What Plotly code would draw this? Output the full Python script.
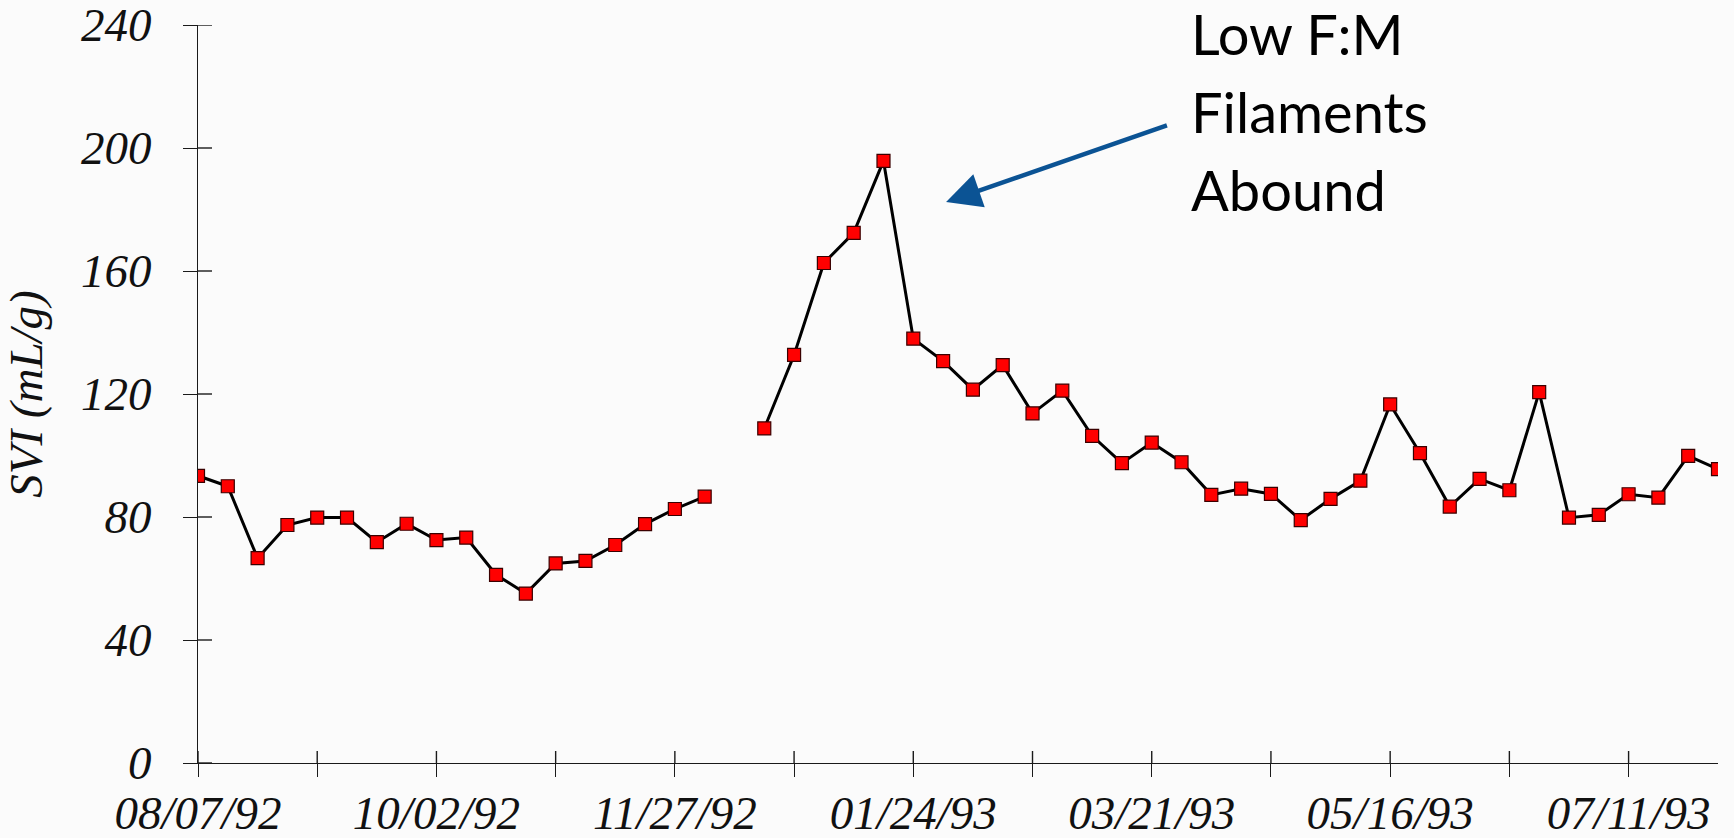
import plotly.graph_objects as go

# Weekly SVI readings (index = week number from 08/07/92); None = missing sample
week_index = list(range(52))
svi_values = [
    93.4, 90.0, 66.6, 77.4, 79.8, 79.8, 71.8, 77.8, 72.5, 73.3,
    61.2, 55.1, 64.9, 65.7, 70.9, 77.7, 82.6, 86.6, None, 108.8,
    132.7, 162.6, 172.4, 195.8, 138.0, 130.7, 121.4, 129.4, 113.7, 121.1,
    106.4, 97.5, 104.2, 97.8, 87.2, 89.2, 87.5, 79.0, 85.9, 91.8,
    116.6, 100.8, 83.4, 92.4, 88.7, 120.6, 79.8, 80.7, 87.4, 86.3,
    99.9, 95.6,
]

x_tick_vals = [0, 8, 16, 24, 32, 40, 48]
x_tick_text = ["08/07/92", "10/02/92", "11/27/92", "01/24/93", "03/21/93", "05/16/93", "07/11/93"]
x_minor_ticks = list(range(0, 52, 4))
y_tick_vals = [0, 40, 80, 120, 160, 200, 240]

annotation_lines = ["Low F:M", "Filaments", "Abound"]
arrow_tip = (25.1, 182.4)
arrow_tail = (32.56, 207.5)

BG = "#fbfbfb"
AX = "#1a1a1a"
serif = dict(family="Liberation Serif, Times New Roman, serif", size=47, color="#111", style="italic")

fig = go.Figure()
fig.add_trace(go.Scatter(
    x=week_index, y=svi_values, mode="lines+markers", connectgaps=False,
    line=dict(color="black", width=3),
    marker=dict(symbol="square", size=13, color="#ff0000", line=dict(color="#3a0000", width=1.2)),
    showlegend=False, hoverinfo="skip",
))

fig.update_layout(
    width=1734, height=838,
    margin=dict(l=198, r=16, t=25, b=75),
    paper_bgcolor=BG, plot_bgcolor=BG,
    xaxis=dict(
        range=[0, 51], tickmode="array", tickvals=x_minor_ticks,
        ticktext=[x_tick_text[x_tick_vals.index(v)] if v in x_tick_vals else "" for v in x_minor_ticks],
        ticks="outside", ticklen=13, tickwidth=1.4, tickcolor=AX,
        showline=True, linecolor=AX, linewidth=1.4, automargin=False,
        showgrid=False, zeroline=False, tickfont=serif, ticklabelstandoff=-5,
        ticklabeloverflow="allow",
    ),
    yaxis=dict(
        range=[0, 240], tickmode="array", tickvals=y_tick_vals,
        ticks="outside", ticklen=14, tickwidth=1.4, tickcolor=AX,
        showline=True, linecolor=AX, linewidth=1.4, automargin=False,
        showgrid=False, zeroline=False, tickfont=serif, ticklabelstandoff=22,
        ticklabeloverflow="allow",
        title=dict(text="SVI (mL/g)", font=serif, standoff=52),
    ),
)

# inner halves of the crossing tick marks (outer halves are the axes' own ticks)
for v in x_minor_ticks:
    fig.add_shape(type="line", xref="x", yref="y", x0=v, x1=v,
                  ysizemode="pixel", yanchor=0, y0=0, y1=12,
                  line=dict(color=AX, width=1.4), layer="above")
for v in y_tick_vals:
    fig.add_shape(type="line", xref="x", yref="y", y0=v, y1=v,
                  xsizemode="pixel", xanchor=0, x0=0, x1=14,
                  line=dict(color=AX, width=1.4), layer="above")

fig.add_annotation(
    x=arrow_tip[0], y=arrow_tip[1], ax=arrow_tail[0], ay=arrow_tail[1],
    xref="x", yref="y", axref="x", ayref="y", text="",
    showarrow=True, arrowhead=2, arrowsize=1.55, arrowwidth=4.5, arrowcolor="#0b5394",
)
for i, line in enumerate(annotation_lines):
    fig.add_annotation(
        x=0.652, y=1.036 - i * 0.1052, xref="paper", yref="paper", xanchor="left", yanchor="top",
        text=line, showarrow=False, align="left",
        font=dict(family="Lato, Open Sans, sans-serif", size=56, color="black"),
    )

fig.write_html("out.html", config={"displayModeBar": False},
               post_script="document.body.style.margin='0';")
